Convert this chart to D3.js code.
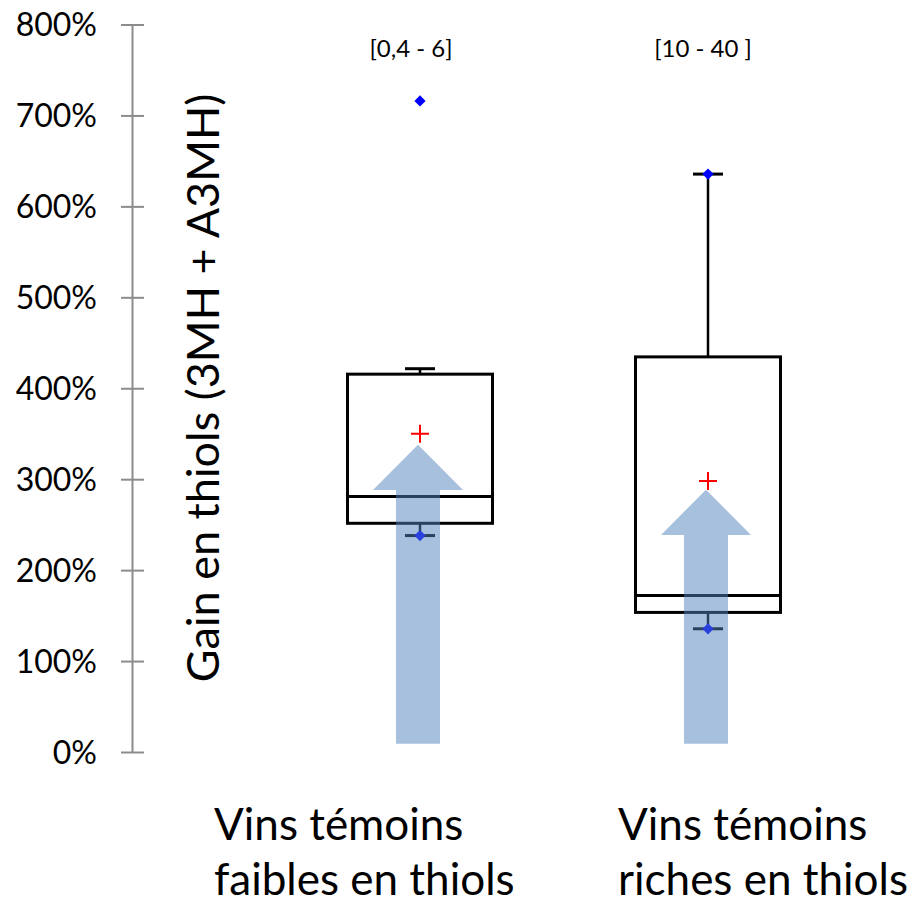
<!DOCTYPE html>
<html>
<head>
<meta charset="utf-8">
<script src="https://cdn.jsdelivr.net/npm/d3@7"></script>
<style>
  html, body { margin: 0; padding: 0; background: #fff; }
  svg { display: block; }
  text { font-family: Lato, "Open Sans", sans-serif; fill: #000; }
</style>
</head>
<body>
<svg id="chart" width="915" height="906"></svg>
<script>
// ---- data ----
const categories = ["faibles", "riches"];
const categoryLines = [["Vins témoins", "faibles en thiols"], ["Vins témoins", "riches en thiols"]];
const rangeLabels = ["[0,4 - 6]", "[10 - 40 ]"];
const whiskerLow = [238, 135.5];
const q1 = [251.5, 153.5];
const median = [281, 172];
const q3 = [415.5, 434.5];
const whiskerHigh = [421.5, 635.5];
const means = [350, 298];
const pointsMinMax = [[238, 716], [135.5, 635.5]];
const arrowTips = [338, 288.5];
const yTicks = [0, 100, 200, 300, 400, 500, 600, 700, 800];
const yTitle = "Gain en thiols (3MH + A3MH)";

// ---- layout ----
const svg = d3.select("#chart");
const y = d3.scaleLinear().domain([0, 800]).range([752, 24.5]);
const x = d3.scalePoint().domain(categories).range([420, 708]);
const xLabel = d3.scalePoint().domain(categories).range([214, 618]);
const xRange = d3.scalePoint().domain(categories).range([411, 703]);
const boxW = 145, capW = 30, shaftW = 44, headW = 90, headH = 50;

// axis
const axis = d3.axisLeft(y).tickValues(yTicks).tickFormat(d => d + "%").tickSizeInner(11).tickSizeOuter(0).tickPadding(24);
const gAxis = svg.append("g").attr("transform", "translate(132,0)").call(axis);
gAxis.select(".domain").attr("stroke", "#8c8c8c").attr("stroke-width", 2);
gAxis.selectAll(".tick line").attr("stroke", "#8c8c8c").attr("stroke-width", 2).attr("x2", 12).attr("x1", -11);
gAxis.selectAll(".tick text").attr("font-size", 32).attr("font-family", "Lato").attr("fill", "#000").attr("dy", "0.35em");

// y title
svg.append("text")
  .attr("transform", `translate(219,388) rotate(-90)`)
  .attr("text-anchor", "middle")
  .attr("font-size", 45)
  .text(yTitle);

// range labels
svg.selectAll(".rng").data(categories).join("text")
  .attr("x", d => xRange(d)).attr("y", 57)
  .attr("text-anchor", "middle").attr("font-size", 24)
  .text((d, i) => rangeLabels[i]);

// boxes
const g = svg.append("g");
categories.forEach((c, i) => {
  const cx = x(c);
  // whiskers
  g.append("line").attr("x1", cx).attr("x2", cx).attr("y1", y(q3[i])).attr("y2", y(whiskerHigh[i]))
    .attr("stroke", "#000").attr("stroke-width", 2.5);
  g.append("line").attr("x1", cx).attr("x2", cx).attr("y1", y(q1[i])).attr("y2", y(whiskerLow[i]))
    .attr("stroke", "#000").attr("stroke-width", 2.5);
  g.append("line").attr("x1", cx - capW / 2).attr("x2", cx + capW / 2).attr("y1", y(whiskerHigh[i])).attr("y2", y(whiskerHigh[i]))
    .attr("stroke", "#000").attr("stroke-width", 3);
  g.append("line").attr("x1", cx - capW / 2).attr("x2", cx + capW / 2).attr("y1", y(whiskerLow[i])).attr("y2", y(whiskerLow[i]))
    .attr("stroke", "#000").attr("stroke-width", 3);
  // box
  g.append("rect").attr("x", cx - boxW / 2).attr("width", boxW)
    .attr("y", y(q3[i])).attr("height", y(q1[i]) - y(q3[i]))
    .attr("fill", "none").attr("stroke", "#000").attr("stroke-width", 3);
  g.append("line").attr("x1", cx - boxW / 2).attr("x2", cx + boxW / 2).attr("y1", y(median[i])).attr("y2", y(median[i]))
    .attr("stroke", "#000").attr("stroke-width", 3);
  // min / max points
  pointsMinMax[i].forEach(v => {
    g.append("path").attr("d", d3.symbol(d3.symbolDiamond2, 80)())
      .attr("transform", `translate(${cx},${y(v)})`).attr("fill", "#0000ff");
  });
  // mean cross
  g.append("path").attr("d", "M-9,0H9M0,-9V9")
    .attr("transform", `translate(${cx},${y(means[i])})`)
    .attr("stroke", "#ff0000").attr("stroke-width", 2).attr("fill", "none");
});

// arrows (semi-transparent, on top)
categories.forEach((c, i) => {
  const cx = x(c) - 2;
  const tip = y(arrowTips[i]);
  const base = y(arrowTips[i] - headH);
  const bottom = y(9);
  const pts = [
    [cx, tip], [cx + headW / 2, base], [cx + shaftW / 2, base], [cx + shaftW / 2, bottom],
    [cx - shaftW / 2, bottom], [cx - shaftW / 2, base], [cx - headW / 2, base]
  ];
  svg.append("path").attr("d", d3.line()(pts) + "Z")
    .attr("fill", "#4F81BD").attr("fill-opacity", 0.5);
});

// category labels
categories.forEach((c, i) => {
  const t = svg.append("text").attr("x", xLabel(c)).attr("y", 840).attr("font-size", 44);
  categoryLines[i].forEach((ln, j) => {
    t.append("tspan").attr("x", xLabel(c)).attr("y", 840 + j * 55).text(ln);
  });
});
</script>
</body>
</html>
